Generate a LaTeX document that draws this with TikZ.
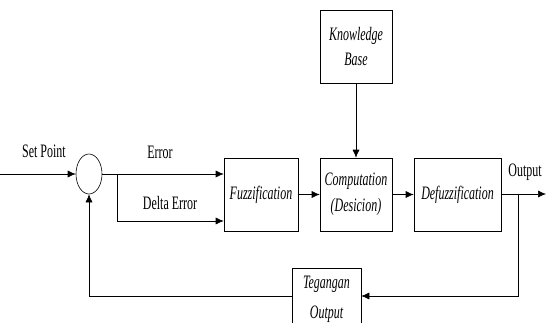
\documentclass[tikz,border=0pt]{standalone}
\usepackage{fontspec}
\setmainfont{Liberation Serif}[FakeStretch=0.63]
\usetikzlibrary{shapes,arrows.meta,positioning}

\begin{document}
\begin{tikzpicture}
                [
                    x=1pt, y=1pt,
                    font=\fontsize{19}{26}\selectfont,
                    blocknode/.style={rectangle, draw, semithick, align=center, font=\fontsize{19}{26}\selectfont\itshape},
                    sumnode/.style={ellipse, draw, semithick, minimum width=26pt, minimum height=40pt, inner sep=0pt},
                    wire/.style={semithick, -{Latex[length=8pt, width=7pt]}},
                ]
                \useasboundingbox (0,0) rectangle (546,322);

                \node [sumnode] (sum) at (89,148) {};
                \node [blocknode, minimum width=74pt, minimum height=73pt] (fuzz) at (261,127.5) {Fuzzification};
                \node [blocknode, minimum width=72pt, minimum height=73pt] (comp) at (356,127.5) {Computation\\(Desicion)};
                \node [blocknode, minimum width=87pt, minimum height=73pt] (defuzz) at (457.5,127.5) {Defuzzification};
                \node [blocknode, minimum width=72pt, minimum height=73pt, font=\fontsize{19}{25}\selectfont\itshape] (kbase) at (356,275.5) {Knowledge\\Base};
                \node [blocknode, minimum width=69pt, minimum height=62pt, font=\fontsize{19}{30}\selectfont\itshape] (tegangan) at (326.5,23) {Tegangan\\Output};

                \coordinate (input) at (0,148);
                \coordinate (split) at (117,148);
                \coordinate (tap) at (518,128);
                \coordinate (output) at (546,128);

                \node [] (setpoint) at (44,171) {Set Point};
                \node [] (errortext) at (160,170) {Error};
                \node [] (deltatext) at (170,119) {Delta Error};
                \node [] (outtext) at (525,150) {Output};

                \draw[wire] (input) -- (sum.west);
                \draw[wire] (sum.east) -- (sum.east -| fuzz.west);
                \draw[wire] (split) |- (fuzz.west |- 0,101);
                \draw[wire] (fuzz.east |- comp) -- (comp.west);
                \draw[wire] (comp.east) -- (defuzz.west);
                \draw[wire] (kbase.south) -- (comp.north);
                \draw[wire] (defuzz.east |- tap) -- (output);
                \draw[wire] (tap) |- (tegangan.east |- 0,26);
                \draw[wire] (tegangan.west |- 0,26) -| (sum.south);
\end{tikzpicture}
\end{document}
